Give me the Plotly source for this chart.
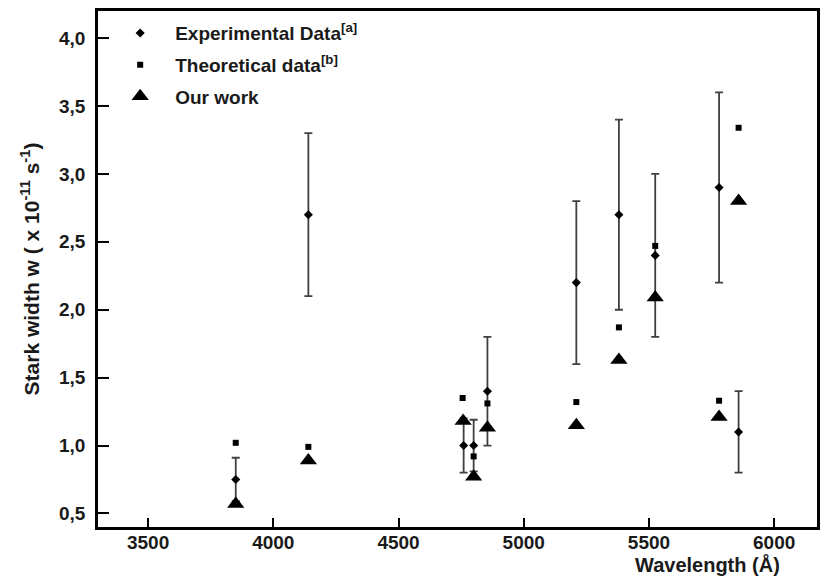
import plotly.graph_objects as go

# Experimental data [a] (with error bars)
exp_wl = [3850, 4140, 4760, 4800, 4855, 5210, 5380, 5525, 5780, 5858]
exp_w = [0.75, 2.70, 1.00, 1.00, 1.40, 2.20, 2.70, 2.40, 2.90, 1.10]
exp_err = [0.16, 0.60, 0.20, 0.19, 0.40, 0.60, 0.70, 0.60, 0.70, 0.30]

# Theoretical data [b]
th_wl = [3850, 4140, 4756, 4800, 4855, 5210, 5380, 5525, 5780, 5858]
th_w = [1.02, 0.99, 1.35, 0.92, 1.31, 1.32, 1.87, 2.47, 1.33, 3.34]

# Our work
our_wl = [3850, 4140, 4758, 4800, 4855, 5210, 5380, 5525, 5780, 5858]
our_w = [0.57, 0.89, 1.18, 0.77, 1.13, 1.15, 1.63, 2.09, 1.21, 2.80]

x_ticks = [3500, 4000, 4500, 5000, 5500, 6000]
y_ticks = [0.5, 1.0, 1.5, 2.0, 2.5, 3.0, 3.5, 4.0]

FONT = "Liberation Sans"
TXT = "#1a1a1a"

fig = go.Figure()
fig.add_trace(go.Scatter(
    x=exp_wl, y=exp_w, mode="markers", name="Experimental Data<sup>[a]</sup>",
    legendgroup="a",
    marker=dict(symbol="diamond", size=7, color="black"),
    error_y=dict(type="data", array=exp_err, visible=True, color="#404040",
                 thickness=1.8, width=4),
))
fig.add_trace(go.Scatter(
    x=th_wl, y=th_w, mode="markers", name="Theoretical data<sup>[b]</sup>",
    legendgroup="b",
    marker=dict(symbol="square", size=6, color="black"),
))
fig.add_trace(go.Scatter(
    x=our_wl, y=our_w, mode="markers", name="Our work",
    legendgroup="c",
    marker=dict(symbol="triangle-up", size=15, color="black"),
))

axis_common = dict(
    showline=True, linecolor="black", linewidth=2.5, mirror=True,
    ticks="inside", tickwidth=1.8, tickcolor="black",
    showgrid=False, zeroline=False,
    tickfont=dict(family=FONT, size=19, color=TXT, weight="bold"),
)

fig.update_layout(
    width=812, height=568,
    margin=dict(l=90, r=0, t=3, b=49),
    paper_bgcolor="white", plot_bgcolor="white",
    separators=",.",
    showlegend=True,
    legend=dict(
        x=0.01, y=0.994, xanchor="left", yanchor="top",
        bgcolor="rgba(0,0,0,0)", borderwidth=0,
        font=dict(family=FONT, size=19, color=TXT, weight="bold"),
        itemsizing="trace", itemwidth=60, tracegroupgap=4,
        traceorder="grouped",
    ),
    xaxis=dict(range=[3300, 6171], tickvals=x_ticks, ticklen=9,
               ticklabelstandoff=-4,
               ticktext=[str(v) for v in x_ticks], **axis_common),
    yaxis=dict(range=[0.4, 4.2], tickvals=y_ticks, tickformat=".1f", ticklen=11,
               ticklabelstandoff=6,
               title=dict(text="Stark width w ( x 10<sup>-11</sup> s<sup>-1</sup>)",
                          font=dict(family=FONT, size=21, color=TXT, weight="bold"),
                          standoff=14),
               **axis_common),
    annotations=[dict(
        text="Wavelength (Å)", xref="paper", yref="paper",
        x=0.848, y=-0.098, xanchor="center", yanchor="bottom", showarrow=False,
        font=dict(family=FONT, size=20, color=TXT, weight="bold"),
    )],
)

fig.write_html("out.html")
